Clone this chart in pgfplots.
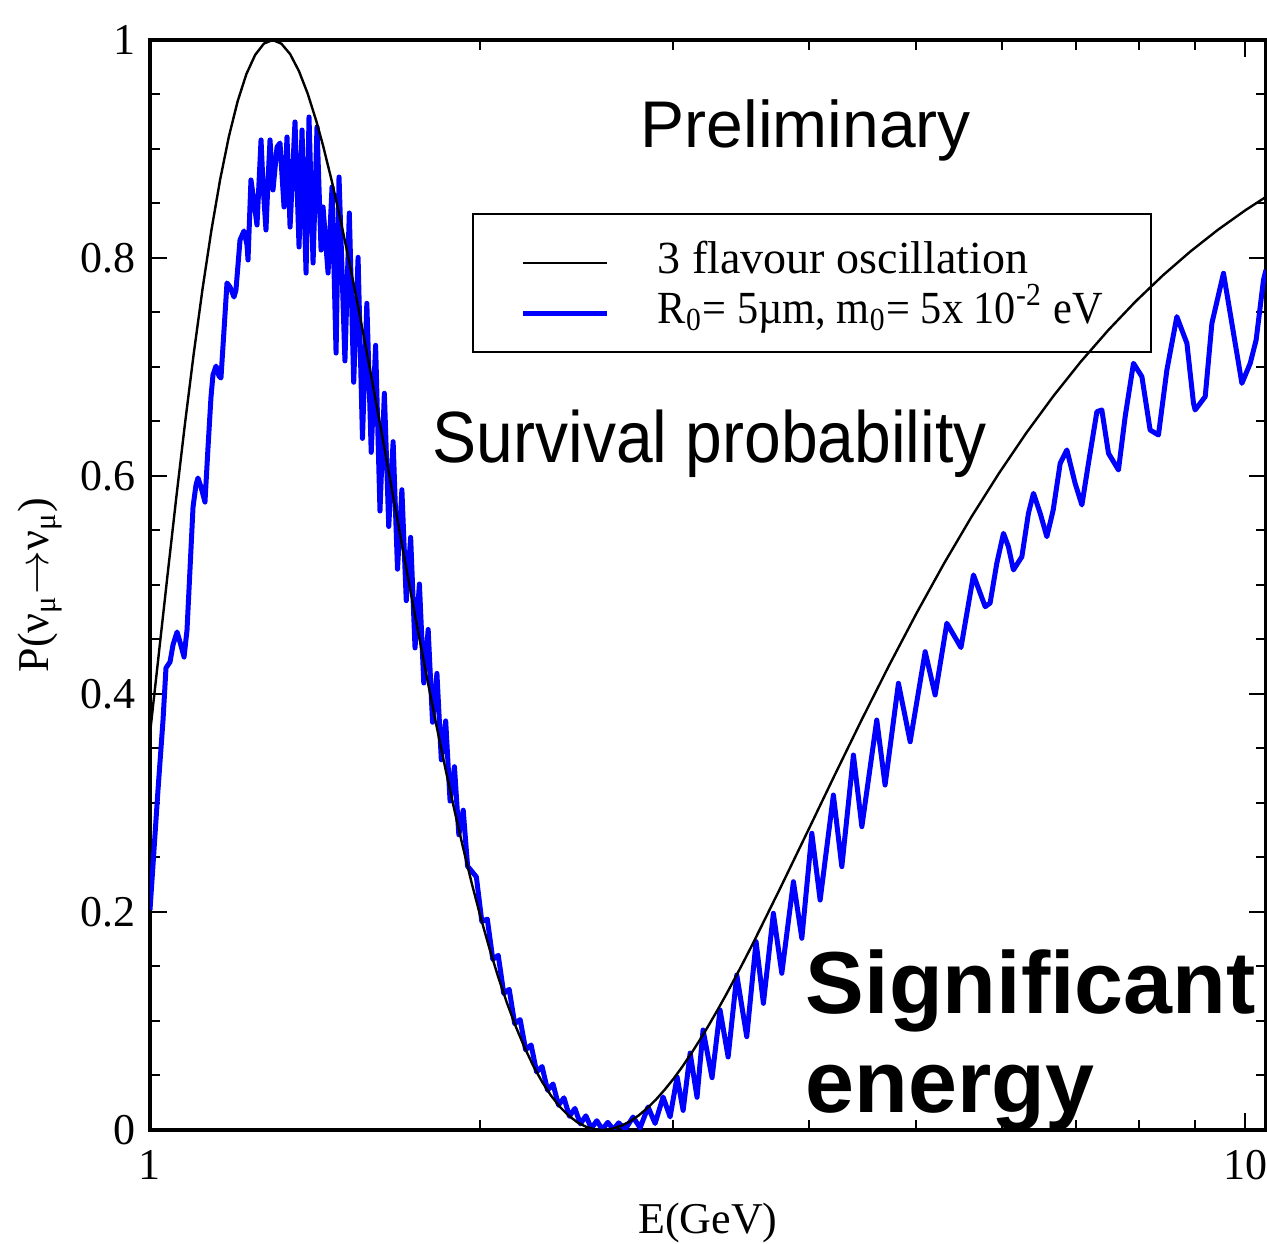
\documentclass[border=0pt]{standalone}
\usepackage{fontspec}
\setmainfont{Liberation Serif}
\newfontfamily\labelsans{Liberation Sans}
\usepackage{graphicx}
\usepackage{pgfplots}
\pgfplotsset{compat=1.18}

% Horizontal coordinate is log10(E/GeV); the tick labels show E itself.
\begin{document}
\begin{tikzpicture}
\useasboundingbox (-37.5pt,-28.5pt) rectangle (279.25pt,282.5pt);
\begin{axis}[
  at={(0,0)}, anchor=south west,
  scale only axis, width=279pt, height=272.5pt,
  xmin=0, xmax=1.019, ymin=0, ymax=1,
  axis line style={line width=0.8pt},
  xtick={0,1}, xticklabels={1,10},
  minor xtick={0.30103,0.47712,0.60206,0.69897,0.77815,0.84510,0.90309,0.95424},
  ytick={0,0.2,0.4,0.6,0.8,1}, yticklabels={0,0.2,0.4,0.6,0.8,1},
  minor ytick={0.05,0.1,0.15,0.25,0.3,0.35,0.45,0.5,0.55,0.65,0.7,0.75,0.85,0.9,0.95},
  major tick length=4.25pt, minor tick length=2.4pt,
  tick style={line width=0.5pt, black},
  tick label style={font=\fontsize{11}{13}\selectfont},
  xticklabel style={yshift=-1.5pt},
  xlabel={E(GeV)},
  ylabel={P(ν\textsubscript{μ}$\rightarrow$ν\textsubscript{μ})},
  label style={font=\fontsize{11}{13}\selectfont},
  xlabel style={at={(axis description cs:0.5,-0.0853)}, anchor=center},
  ylabel style={at={(axis description cs:-0.0986,0.5)}, anchor=center},
  legend style={at={(axis description cs:0.2885,0.841)}, anchor=north west,
    draw=black, fill=none, line width=0.5pt, inner xsep=12pt, inner ysep=5pt,
    font=\fontsize{11.5}{13}\selectfont,
    nodes={inner xsep=0pt, inner ysep=0.5pt, text height=9.2pt, text depth=1.8pt},
    column sep=12pt, row sep=0.5pt},
  legend cell align=left,
  reverse legend,
  legend image code/.code={\draw[#1] (0pt,-1.2pt) -- (21pt,-1.2pt);},
]

% extra-dimension model: R0 = 5 um, m0 = 5e-2 eV
\addplot[blue, line width=1.25pt, line join=round] coordinates {
(0.0000,0.2018) (0.0073,0.3119) (0.0119,0.3761) (0.0146,0.4239) (0.0183,0.4294)
(0.0210,0.4450) (0.0247,0.4569) (0.0274,0.4477) (0.0311,0.4339) (0.0338,0.4587)
(0.0365,0.5138) (0.0393,0.5716) (0.0420,0.5917) (0.0438,0.5982) (0.0466,0.5899)
(0.0502,0.5761) (0.0530,0.6266) (0.0557,0.6725) (0.0575,0.6927) (0.0603,0.7009)
(0.0630,0.6917) (0.0648,0.6899) (0.0676,0.7339) (0.0703,0.7771) (0.0731,0.7734)
(0.0767,0.7642) (0.0785,0.7706) (0.0822,0.8165) (0.0858,0.8248) (0.0886,0.8119)
(0.0895,0.7982) (0.0922,0.8716) (0.0941,0.8578) (0.0959,0.8440) (0.0977,0.8303)
(0.1014,0.9083) (0.1032,0.8670) (0.1059,0.8257) (0.1078,0.8716) (0.1096,0.9083)
(0.1123,0.8624) (0.1160,0.9018) (0.1187,0.9055) (0.1224,0.8468) (0.1251,0.9110)
(0.1279,0.8284) (0.1324,0.9248) (0.1361,0.8101) (0.1388,0.9174) (0.1425,0.7862)
(0.1452,0.9294) (0.1489,0.7954) (0.1525,0.9202) (0.1562,0.8073) (0.1580,0.8468)
(0.1626,0.7862) (0.1662,0.8651) (0.1699,0.7128) (0.1726,0.8743)
(0.178,0.7056) (0.182,0.8413) (0.186,0.6860) (0.190,0.8006) (0.194,0.6345)
(0.198,0.7584) (0.202,0.6217) (0.206,0.7199) (0.210,0.5679) (0.214,0.6759)
(0.218,0.5537) (0.222,0.6315) (0.226,0.5145) (0.230,0.5874) (0.234,0.4856)
(0.238,0.5437) (0.242,0.4423) (0.246,0.5009) (0.250,0.4101) (0.254,0.4592)
(0.258,0.3741) (0.262,0.4189) (0.266,0.3396) (0.270,0.3753) (0.274,0.3018)
(0.278,0.3333) (0.282,0.2709) (0.286,0.2934) (0.290,0.2420)
(0.298,0.2322) (0.303,0.1913) (0.308,0.1935) (0.313,0.1566) (0.318,0.1602)
(0.323,0.1253) (0.328,0.1290) (0.333,0.0976) (0.338,0.1013) (0.343,0.0736)
(0.348,0.0780) (0.353,0.0533) (0.358,0.0582) (0.363,0.0365) (0.368,0.0422)
(0.373,0.0228) (0.378,0.0295) (0.383,0.0126) (0.388,0.0198) (0.393,0.0056)
(0.398,0.0130) (0.403,0.0015) (0.408,0.0085) (0.413,0.0005) (0.418,0.0070)
(0.423,0.0005) (0.428,0.0065) (0.434,0.0008)
(0.4411,0.0119) (0.4475,0.0020) (0.4548,0.0211) (0.4612,0.0060) (0.4685,0.0303)
(0.4749,0.0120) (0.4813,0.0486) (0.4868,0.0180) (0.4932,0.0706) (0.4995,0.0300)
(0.5050,0.0917) (0.5132,0.0480) (0.5205,0.1101) (0.5279,0.0670) (0.5358,0.1422)
(0.5449,0.0856) (0.5534,0.1728) (0.5601,0.1162) (0.5692,0.1988) (0.5769,0.1438)
(0.5875,0.2278) (0.5952,0.1759) (0.6043,0.2722) (0.6119,0.2110) (0.6240,0.3073)
(0.6317,0.2416) (0.6423,0.3440) (0.6500,0.2783) (0.6636,0.3761) (0.6712,0.3165)
(0.6834,0.4098) (0.6941,0.3562) (0.7078,0.4388) (0.7169,0.3991) (0.7276,0.4649)
(0.7405,0.4426)
(0.7519,0.5092) (0.7626,0.4801) (0.7671,0.4835) (0.7732,0.5199) (0.7793,0.5474)
(0.7838,0.5352) (0.7884,0.5138) (0.7961,0.5260) (0.8021,0.5658) (0.8067,0.5841)
(0.8128,0.5658) (0.8189,0.5443) (0.8247,0.5688) (0.8311,0.6117) (0.8372,0.6239)
(0.8447,0.5933) (0.8509,0.5734) (0.8569,0.6117) (0.8646,0.6590) (0.8691,0.6606)
(0.8752,0.6208) (0.8843,0.6055) (0.8904,0.6544) (0.8980,0.7034) (0.9057,0.6911)
(0.9132,0.6422) (0.9208,0.6376) (0.9285,0.6972) (0.9376,0.7462) (0.9468,0.7217)
(0.9528,0.6667) (0.9543,0.6606) (0.9635,0.6728) (0.9696,0.7401) (0.9802,0.7860)
(0.9863,0.7493) (0.9970,0.6850) (1.0046,0.7034) (1.0100,0.7248) (1.0167,0.7798)
(1.0190,0.7890)
};
\addlegendentry{\scalebox{0.92}[1]{R\textsubscript{0}= 5µm, m\textsubscript{0}= 5x 10\textsuperscript{-2} eV}}

% standard three-flavour survival probability
\addplot[black, line width=0.6pt] coordinates {
(0.000,0.3637) (0.008,0.4364) (0.016,0.5090) (0.024,0.5802) (0.032,0.6485)
(0.040,0.7127) (0.048,0.7718) (0.056,0.8250) (0.064,0.8717) (0.072,0.9113)
(0.080,0.9437) (0.088,0.9687) (0.096,0.9863) (0.104,0.9967) (0.112,1.0000)
(0.120,0.9966) (0.128,0.9870) (0.136,0.9715) (0.144,0.9508) (0.152,0.9252)
(0.158,0.9032) (0.166,0.8706) (0.174,0.8348) (0.182,0.7963) (0.190,0.7556)
(0.198,0.7134) (0.206,0.6699) (0.214,0.6259) (0.222,0.5815) (0.230,0.5374)
(0.238,0.4937) (0.246,0.4509) (0.254,0.4092) (0.262,0.3689) (0.270,0.3303)
(0.278,0.2933) (0.286,0.2584) (0.294,0.2255) (0.302,0.1948) (0.310,0.1664)
(0.318,0.1402) (0.326,0.1164) (0.334,0.0949) (0.342,0.0757) (0.350,0.0588)
(0.358,0.0442) (0.366,0.0318) (0.374,0.0215) (0.382,0.0134) (0.390,0.0072)
(0.398,0.0030) (0.406,0.0006) (0.414,0.0000) (0.422,0.0011) (0.430,0.0037)
(0.438,0.0077) (0.446,0.0132) (0.454,0.0200) (0.462,0.0279) (0.470,0.0370)
(0.478,0.0470) (0.486,0.0580) (0.494,0.0699) (0.502,0.0825) (0.510,0.0958)
(0.518,0.1097) (0.526,0.1241) (0.534,0.1391) (0.542,0.1544) (0.550,0.1701)
(0.575,0.2209) (0.600,0.2729) (0.625,0.3252) (0.650,0.3767) (0.675,0.4265)
(0.700,0.4743) (0.725,0.5197) (0.750,0.5624) (0.775,0.6022) (0.800,0.6393)
(0.825,0.6735) (0.850,0.7050) (0.875,0.7338) (0.900,0.7602) (0.925,0.7842)
(0.950,0.8060) (0.975,0.8258) (1.000,0.8437) (1.019,0.8561)
};
\addlegendentry{3 flavour oscillation}

\node[anchor=base west, inner sep=0pt, font=\labelsans\fontsize{16.5}{18}\selectfont]
  at (axis cs:0.4475,0.9018) {Preliminary};
\node[anchor=base west, inner sep=0pt, font=\labelsans\fontsize{16.5}{18}\selectfont]
  at (axis cs:0.2575,0.6120) {\scalebox{1}[1.1]{Survival probability}};
\node[anchor=base west, inner sep=0pt, font=\labelsans\bfseries\fontsize{22}{24}\selectfont]
  at (axis cs:0.5982,0.1073) {Significant};
\node[anchor=base west, inner sep=0pt, font=\labelsans\bfseries\fontsize{22}{24}\selectfont]
  at (axis cs:0.5982,0.0165) {energy};
\end{axis}
\end{tikzpicture}
\end{document}
